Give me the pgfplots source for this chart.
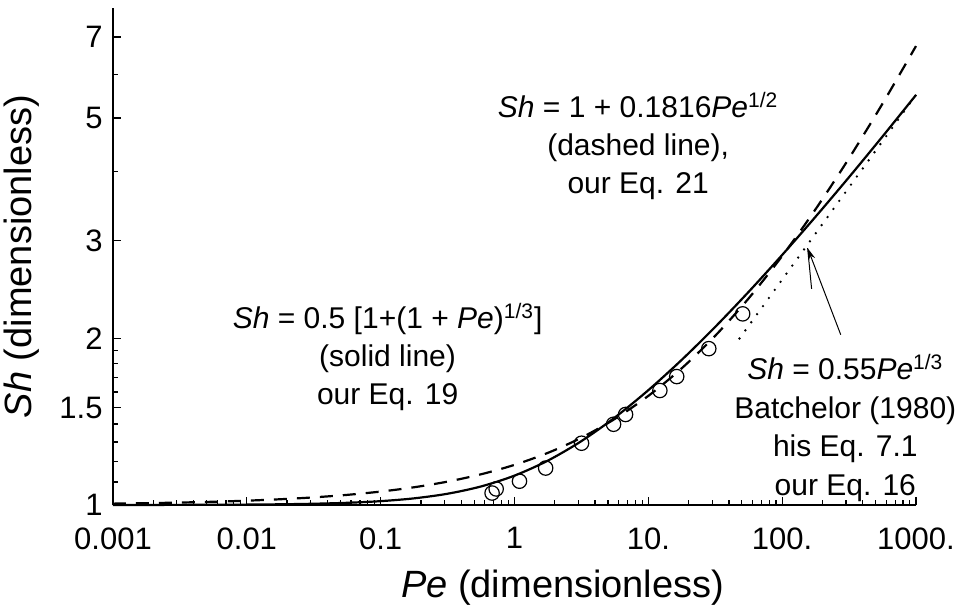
\documentclass[border=0pt]{standalone}
\usepackage{fontspec}
\setmainfont{Liberation Sans}
\usepackage{pgfplots}
\pgfplotsset{compat=1.18}
\usetikzlibrary{arrows.meta}

\begin{document}
\fontsize{15pt}{19pt}\selectfont
\begin{tikzpicture}
\begin{axis}[
  scale only axis, width=401.5pt, height=248.5pt,
  xmode=log, ymode=log,
  xmin=0.001, xmax=1000, ymin=1, ymax=7.9,
  axis x line*=bottom, axis y line*=left,
  axis line style={-, line width=1pt},
  tick align=inside,
  xtick={0.001,0.01,0.1,1,10,100,1000},
  xticklabels={0.001,0.01,0.1,1,10.,100.,1000.},
  minor xtick={0.002,0.003,0.004,0.005,0.006,0.007,0.008,0.009,
               0.02,0.03,0.04,0.05,0.06,0.07,0.08,0.09,
               0.2,0.3,0.4,0.5,0.6,0.7,0.8,0.9,
               2,3,4,5,6,7,8,9,20,30,40,50,60,70,80,90,
               200,300,400,500,600,700,800,900},
  ytick={1,1.5,2,3,5,7},
  yticklabels={1,1.5,2,3,5,7},
  minor ytick={1.1,1.2,1.3,1.4,1.6,1.7,1.8,1.9,4,6},
  major tick length=4pt, minor tick length=2.5pt,
  every tick/.style={black, line width=0.6pt},
  tick label style={font=\fontsize{15.5pt}{18pt}\selectfont},
  xticklabel style={yshift=-6pt},
  label style={font=\fontsize{19pt}{23pt}\selectfont},
  xlabel={\textit{Pe} (dimensionless)},
  ylabel={\textit{Sh} (dimensionless)},
  xlabel style={at={(ticklabel cs:0.56)}},
  clip=false,
]
% solid line, Eq. 19
\addplot[black, line width=1.1pt, smooth] coordinates {
  (0.001,1.000167) (0.001778,1.000296) (0.003162,1.000527) (0.005623,1.000936)
  (0.01,1.001661) (0.01778,1.002946) (0.03162,1.005216) (0.05623,1.009201)
  (0.1,1.016140) (0.1778,1.028032) (0.3162,1.047954) (0.5623,1.080174)
  (1,1.129961) (1.778,1.202874) (3.162,1.304266) (5.623,1.438971)
  (10,1.611990) (17.78,1.829038) (31.62,2.097511) (56.23,2.426902)
  (100,2.828505) (177.8,3.316818) (316.2,3.909948) (562.3,4.629367)
  (1000,5.501666)
};
% dashed line, Eq. 21
\addplot[black, line width=1.1pt, dash pattern=on 6.5pt off 5pt, smooth] coordinates {
  (0.001,1.005743) (0.001778,1.007658) (0.003162,1.010212) (0.005623,1.013618)
  (0.01,1.01816) (0.01778,1.024217) (0.03162,1.032294) (0.05623,1.043064)
  (0.1,1.057427) (0.1778,1.076580) (0.3162,1.102121) (0.5623,1.136181)
  (1,1.1816) (1.778,1.242167) (3.162,1.322935) (5.623,1.430642)
  (10,1.574270) (17.78,1.765801) (31.62,2.021212) (56.23,2.361808)
  (100,2.816) (177.8,3.421675) (316.2,4.229356) (562.3,5.306415)
  (1000,6.742696)
};
% dotted line, Batchelor
\addplot[black, line width=1.3pt, line cap=round, dash pattern=on 0pt off 5pt] coordinates {
  (48,1.998833) (177.8,3.092877) (1000,5.5)
};
% data
\addplot[only marks, mark=o, mark size=3.6pt, mark options={black, fill=white, line width=0.6pt}] coordinates {
  (0.68,1.051) (0.73,1.069) (1.09,1.104) (1.71,1.166) (3.17,1.293)
  (5.50,1.399) (6.76,1.457) (12.2,1.610) (16.3,1.706) (28.3,1.916) (50.7,2.214)
};

\draw[line width=0.5pt] (axis cs:166,2.456) -- (axis cs:155,2.91);
\draw[line width=0.5pt, -{Stealth[length=6pt, width=3.5pt]}] (axis cs:274,2.03) -- (axis cs:155,2.91);

\node[align=center, font=\fontsize{15pt}{19pt}\selectfont] at (rel axis cs:0.654,0.722)
  {\textit{Sh} = 1 + 0.1816\textit{Pe}\textsuperscript{1/2}\\(dashed line),\\our Eq. 21};
\node[align=center, font=\fontsize{15pt}{19pt}\selectfont] at (rel axis cs:0.342,0.298)
  {\textit{Sh} = 0.5 [1+(1 + \textit{Pe})\textsuperscript{1/3}]\\(solid line)\\our Eq. 19};
\node[align=center, font=\fontsize{15pt}{19.3pt}\selectfont] at (rel axis cs:0.912,0.155)
  {\textit{Sh} = 0.55\textit{Pe}\textsuperscript{1/3}\\Batchelor (1980)\\his Eq. 7.1\\our Eq. 16};

\coordinate (bbll) at (rel axis cs:-0.1407,-0.2093);
\coordinate (bbur) at (rel axis cs:1.0548,1.0161);
\end{axis}
\pgfresetboundingbox
\path (bbll) rectangle (bbur);
\end{tikzpicture}
\end{document}
